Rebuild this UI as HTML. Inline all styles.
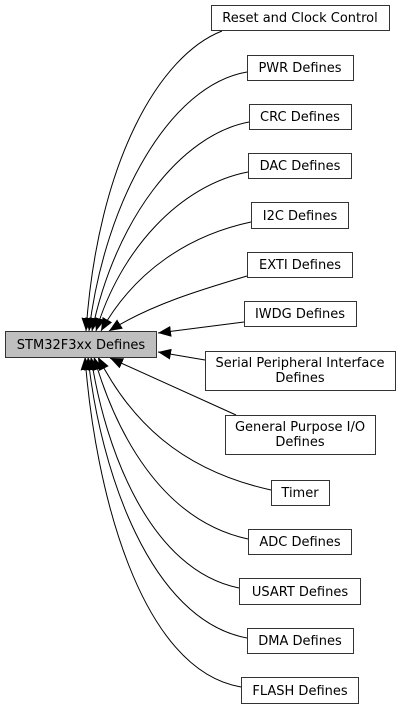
<!DOCTYPE html>
<html><head><meta charset="utf-8"><style>
html,body{margin:0;padding:0;background:#fff;}
svg{display:block;}
text{font-family:"DejaVu Sans","Liberation Sans",sans-serif;font-size:13px;fill:#000;}
</style></head><body>
<svg width="401" height="708" viewBox="0 0 401 708" xmlns="http://www.w3.org/2000/svg">
<defs>
<marker id="a" viewBox="0 0 12 10" refX="12" refY="5" markerWidth="13" markerHeight="11" markerUnits="userSpaceOnUse" orient="auto">
<path d="M0,0 L12,5 L0,10 z" fill="#000"/>
</marker>
</defs>
<g fill="none" stroke="#000" stroke-width="1" marker-end="url(#a)">
<path d="M222,31 C160,55 98,160 86,331"/>
<path d="M247,72 C170,85 105,200 89,331"/>
<path d="M249,122 C180,135 115,220 92,331"/>
<path d="M248,172 C180,185 120,250 96,331"/>
<path d="M251,222 C190,235 135,270 101,331"/>
<path d="M247,276 C200,290 150,305 109,331"/>
<path d="M244,322 L158,333"/>
<path d="M205,360 L158,352"/>
<path d="M236,415 L110,358"/>
<path d="M271,490 C180,470 130,420 98,357"/>
<path d="M248,539 C160,520 115,430 94,357"/>
<path d="M239,588 C150,570 105,450 91,357"/>
<path d="M247,638 C150,620 100,470 88,357"/>
<path d="M241,687 C140,670 95,490 85,357"/>
</g>
<g stroke="#333" stroke-width="1" fill="#fff">
<rect x="211.5" y="5.5" width="178" height="25"/>
<rect x="247.5" y="55.5" width="106" height="25"/>
<rect x="249.5" y="104.5" width="102" height="25"/>
<rect x="248.5" y="153.5" width="103" height="25"/>
<rect x="251.5" y="202.5" width="97" height="26"/>
<rect x="247.5" y="252.5" width="105" height="25"/>
<rect x="244.5" y="301.5" width="112" height="25"/>
<rect x="5.5" y="331.5" width="151" height="26" fill="#bfbfbf"/>
<rect x="205.5" y="351.5" width="190" height="39"/>
<rect x="225.5" y="415.5" width="150" height="39"/>
<rect x="271.5" y="480.5" width="58" height="25"/>
<rect x="248.5" y="529.5" width="103" height="25"/>
<rect x="239.5" y="578.5" width="121" height="26"/>
<rect x="247.5" y="628.5" width="106" height="25"/>
<rect x="241.5" y="677.5" width="117" height="26"/>
</g>
<g text-anchor="middle">
<text x="300" y="22">Reset and Clock Control</text>
<text x="300" y="72">PWR Defines</text>
<text x="300" y="121">CRC Defines</text>
<text x="300" y="170">DAC Defines</text>
<text x="300" y="220">I2C Defines</text>
<text x="300" y="269">EXTI Defines</text>
<text x="300" y="318">IWDG Defines</text>
<text x="81" y="349">STM32F3xx Defines</text>
<text x="300" y="367">Serial Peripheral Interface</text>
<text x="300" y="382">Defines</text>
<text x="300" y="431">General Purpose I/O</text>
<text x="300" y="446">Defines</text>
<text x="300" y="497">Timer</text>
<text x="300" y="546">ADC Defines</text>
<text x="300" y="596">USART Defines</text>
<text x="300" y="645">DMA Defines</text>
<text x="300" y="695">FLASH Defines</text>
</g>
</svg>
</body></html>
